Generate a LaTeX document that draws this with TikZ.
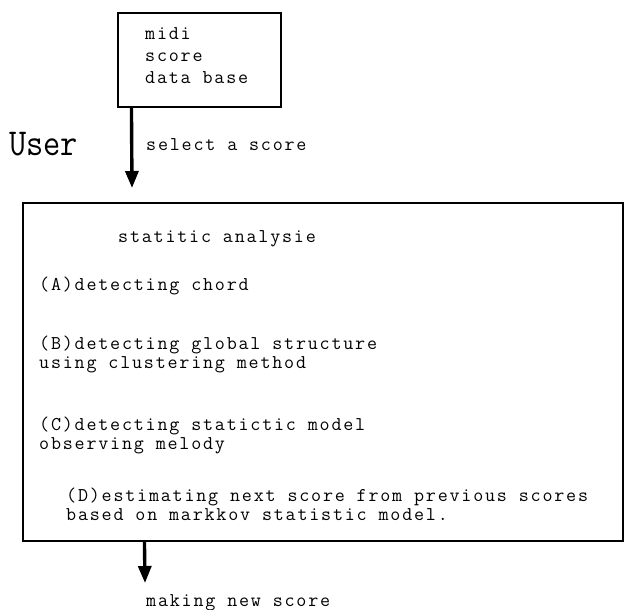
\documentclass[tikz,border=0pt]{standalone}
\usepackage{fontspec}
\newfontfamily\codefont[LetterSpace=9.2]{Latin Modern Mono}
\usetikzlibrary{arrows.meta}
\tikzset{
  box/.style={draw=black, line width=1.1pt, inner sep=0pt},
  txt/.style={anchor=base west, inner sep=0pt, font=\codefont\fontsize{19.5}{19}\selectfont},
  flow/.style={line width=3.4pt, -{Triangle[width=13pt,length=17pt]}},
}
\begin{document}
\begin{tikzpicture}[x=1pt,y=-1pt]
\useasboundingbox (0,0) rectangle (625,610);
% top box
\node[box, minimum width=163pt, minimum height=94pt] (db) at (199.5,60) {};
\node[txt] (t1) at (145,40) {midi};
\node[txt] (t2) at (145,62) {score};
\node[txt] (t3) at (145,84) {data base};
% user label
\node[anchor=base west, inner sep=0pt, font=\ttfamily\fontsize{38}{38}\selectfont] (user) at (9,156) {\scalebox{0.88}[1]{User}};
% arrow 1
\coordinate (a1end) at (132,188);
\draw[flow] ([xshift=14pt]db.south west) -- (a1end);
\node[txt] (sel) at (146,150) {select a score};
% big box
\node[box, minimum width=600pt, minimum height=338pt] (ana) at (323,372) {};
\node[txt] (l0) at (118,243) {statitic analysie};
\node[txt] (l1) at (39,290) {(A)detecting chord};
\node[txt] (l2) at (39,349) {(B)detecting global structure};
\node[txt] (l3) at (39,368) {using clustering method};
\node[txt] (l4) at (39,430) {(C)detecting statictic model};
\node[txt] (l5) at (39,449) {observing melody};
\node[txt] (l6) at (66,501) {(D)estimating next score from previous scores};
\node[txt] (l7) at (66,520) {based on markkov statistic model.};
% arrow 2
\coordinate (a2end) at (145,583);
\draw[flow] ([xshift=122pt]ana.south west) -- (a2end);
\node[txt] (out) at (146,606) {making new score};
\end{tikzpicture}
\end{document}
